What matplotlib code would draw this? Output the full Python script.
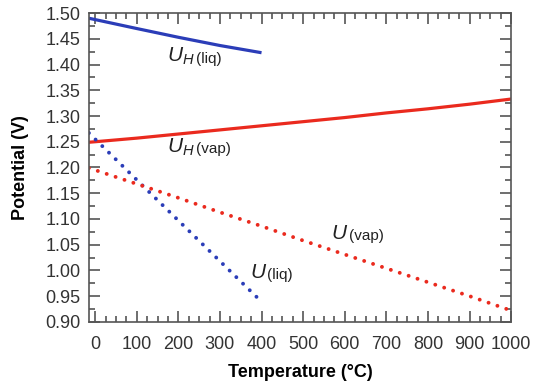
import matplotlib
matplotlib.use("Agg")
import matplotlib.pyplot as plt
from matplotlib.ticker import MultipleLocator, FormatStrFormatter

plt.rcParams['font.family'] = ['Liberation Sans', 'DejaVu Sans']
plt.rcParams['mathtext.fontset'] = 'custom'
plt.rcParams['mathtext.it'] = 'Liberation Sans:italic'
plt.rcParams['mathtext.rm'] = 'Liberation Sans'

# temperatures (deg C) and potentials (V)
t_liq = [-15, 100, 200, 300, 400]
uh_liq = [1.490, 1.470, 1.453, 1.437, 1.423]

t_uliq = [-15, 100, 200, 300, 390]
u_liq = [1.267, 1.176, 1.097, 1.018, 0.947]

t_vap = [-15, 0, 100, 200, 300, 400, 500, 600, 700, 800, 900, 1000]
uh_vap = [1.249, 1.250, 1.257, 1.265, 1.273, 1.281, 1.289, 1.297, 1.306, 1.314, 1.323, 1.333]
u_vap = [1.199, 1.195, 1.168, 1.141, 1.113, 1.086, 1.058, 1.031, 1.004, 0.977, 0.950, 0.922]

blue = '#2b3db8'
red = '#ea2a1e'
grey = '#555555'

fig = plt.figure(figsize=(5.42, 3.85), dpi=100)
ax = fig.add_axes([0.164, 0.164, 0.779, 0.802])

ax.plot(t_liq, uh_liq, color=blue, lw=2.3, solid_capstyle='butt')
ax.plot(t_vap, uh_vap, color=red, lw=2.3, solid_capstyle='butt')
ax.plot(t_uliq, u_liq, color=blue, lw=2.8, linestyle=(0, (0.01, 2.4)), dash_capstyle='round')
ax.plot(t_vap, u_vap, color=red, lw=2.8, linestyle=(0, (0.01, 2.4)), dash_capstyle='round')

ax.set_xlim(-15, 1000)
ax.set_ylim(0.90, 1.50)
ax.xaxis.set_major_locator(MultipleLocator(100))
ax.xaxis.set_minor_locator(MultipleLocator(25))
ax.yaxis.set_major_locator(MultipleLocator(0.05))
ax.yaxis.set_minor_locator(MultipleLocator(0.025))
ax.yaxis.set_major_formatter(FormatStrFormatter('%.2f'))

ax.tick_params(which='both', direction='in', top=True, right=True, color=grey, width=1.2)
ax.tick_params(which='major', length=8, labelsize=13, labelcolor='#333333')
ax.tick_params(axis='x', which='major', pad=10)
ax.tick_params(axis='y', which='major', pad=6)
ax.tick_params(which='minor', length=4.5)
for s in ax.spines.values():
    s.set_color(grey)
    s.set_linewidth(1.2)

ax.set_xlabel('Temperature (°C)', fontsize=13, fontweight='bold', labelpad=8)
ax.set_ylabel('Potential (V)', fontsize=13, fontweight='bold', labelpad=12)

big = dict(fontsize=15, color='#222222', va='center', ha='left')
small = dict(fontsize=11, color='#222222', va='center', ha='left')
ax.text(172, 1.415, r'$U_H$', **big)
ax.text(243, 1.411, '(liq)', **small)
ax.text(172, 1.240, r'$U_H$', **big)
ax.text(243, 1.236, '(vap)', **small)
ax.text(567, 1.071, r'$U$', **big)
ax.text(610, 1.067, '(vap)', **small)
ax.text(373, 0.995, r'$U$', **big)
ax.text(414, 0.991, '(liq)', **small)

fig.savefig('out.png', dpi=100)
